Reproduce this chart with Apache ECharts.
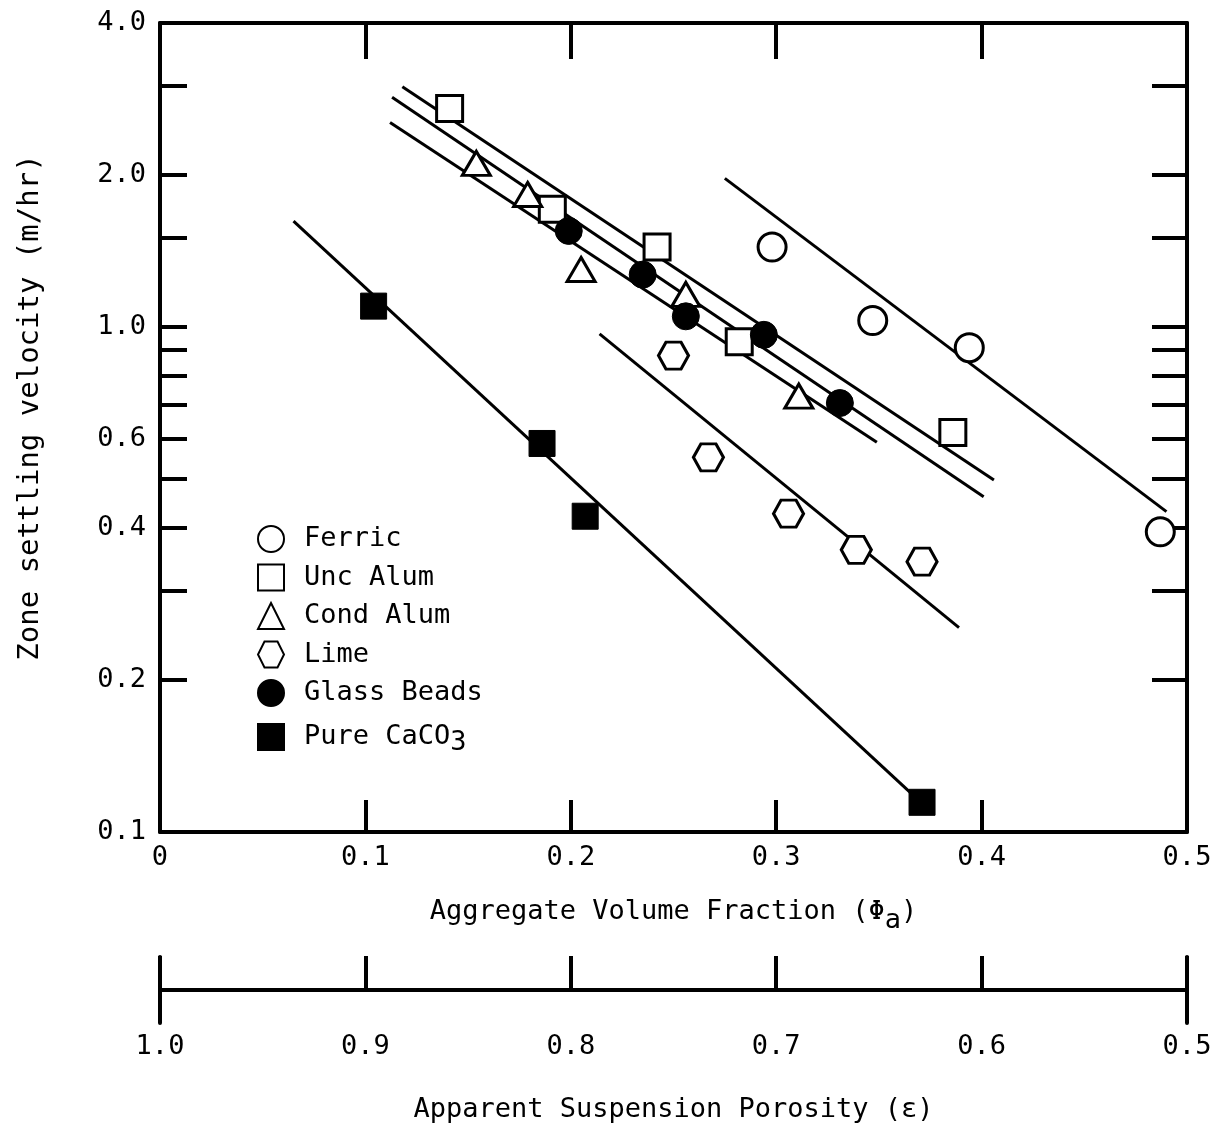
<!DOCTYPE html>
<html><head><meta charset="utf-8">
<script src="https://cdn.jsdelivr.net/npm/echarts@6/dist/echarts.min.js"></script>
<style>html,body{margin:0;padding:0;background:#fff}#c{width:1225px;height:1128px}</style>
</head><body><div id="c"></div>
<script>
const FONT = '"DejaVu Sans Mono", "Liberation Mono", monospace';
// [aggregate volume fraction, zone settling velocity (m/hr)]
const ferric     = [[0.298,1.44],[0.347,1.03],[0.394,0.91],[0.487,0.393]];
const uncAlum    = [[0.141,2.71],[0.191,1.71],[0.242,1.44],[0.282,0.935],[0.386,0.618]];
const condAlum   = [[0.154,2.11],[0.179,1.83],[0.205,1.30],[0.256,1.16],[0.311,0.730]];
const lime       = [[0.250,0.878],[0.267,0.552],[0.306,0.427],[0.339,0.362],[0.371,0.343]];
const glassBeads = [[0.199,1.55],[0.235,1.27],[0.256,1.05],[0.294,0.965],[0.331,0.707]];
const pureCaCO3  = [[0.104,1.10],[0.186,0.588],[0.207,0.422],[0.371,0.1145]];
// fitted lines (end points)
const fitFerric  = [[0.275,1.97],[0.490,0.431]];
const fitUnc     = [[0.118,2.99],[0.406,0.498]];
const fitCond    = [[0.113,2.85],[0.401,0.461]];
const fitGlass   = [[0.112,2.54],[0.349,0.591]];
const fitLime    = [[0.214,0.969],[0.389,0.254]];
const fitCaCO3   = [[0.065,1.62],[0.366,0.119]];
// axis ticks
const yLabelValues = [0.1,0.2,0.4,0.6,1,2,4];
const yTickValues  = [0.2,0.3,0.4,0.5,0.6,0.7,0.8,0.9,1,1.5,2,3];
const seriesNames = ['Ferric','Unc Alum','Cond Alum','Lime','Glass Beads','Pure CaCO3'];

const HEX = 'path://M25,0 L75,0 L100,50 L75,100 L25,100 L0,50 Z';
const txt = {fontFamily: FONT, fontSize: 27, color: '#000'};
const axLine = {show: true, lineStyle: {color: '#000', width: 4}};

function scatter(name, data, symbol, size, filled) {
  return {
    type: 'scatter', name, data, symbol, symbolSize: size, z: 5,
    xAxisIndex: 0, yAxisIndex: 0,
    itemStyle: filled ? {color: '#000', borderColor: '#000', borderWidth: 1, opacity: 1}
                      : {color: '#fff', borderColor: '#000', borderWidth: 3, opacity: 1}
  };
}
function fit(data) {
  return {type: 'line', data, symbol: 'none', showSymbol: false, silent: true, z: 2,
    xAxisIndex: 0, yAxisIndex: 0, lineStyle: {color: '#000', width: 3}};
}

const chart = echarts.init(document.getElementById('c'));
chart.setOption({
  animation: false,
  backgroundColor: '#fff',
  grid: [
    {left: 160, right: 38, top: 23, height: 809, outerBoundsMode: 'none', containLabel: false},
    {left: 160, right: 38, top: 957, height: 66, outerBoundsMode: 'none', containLabel: false}
  ],
  xAxis: [
    {gridIndex: 0, type: 'value', min: 0, max: 0.5, interval: 0.1, position: 'bottom',
     axisLine: Object.assign({onZero: false}, axLine),
     axisTick: {inside: true, length: 32, lineStyle: {color: '#000', width: 4}},
     axisLabel: Object.assign({margin: 12, formatter: v => v === 0 ? '0' : v.toFixed(1)}, txt),
     splitLine: {show: false},
     name: 'Aggregate Volume Fraction (Φ{sub|a})', nameLocation: 'middle', nameGap: 66,
     nameTextStyle: Object.assign({rich: {sub: {fontFamily: FONT, fontSize: 27, color: '#000', lineHeight: 16, padding: [18, 0, 0, 0]}}}, txt)},
    {gridIndex: 0, type: 'value', min: 0, max: 0.5, interval: 0.1, position: 'top',
     axisLine: Object.assign({onZero: false}, axLine),
     axisTick: {inside: true, length: 36, lineStyle: {color: '#000', width: 4}},
     axisLabel: {show: false}, splitLine: {show: false}},
    {gridIndex: 1, type: 'value', min: 0.5, max: 1.0, interval: 0.1, inverse: true,
     axisLine: Object.assign({onZero: true}, axLine),
     axisTick: {inside: true, length: 34, lineStyle: {color: '#000', width: 4}},
     axisLabel: Object.assign({margin: 10, formatter: v => v.toFixed(1)}, txt),
     splitLine: {show: false},
     name: 'Apparent Suspension Porosity (ε)', nameLocation: 'middle', nameGap: 73,
     nameTextStyle: txt}
  ],
  yAxis: [
    {gridIndex: 0, type: 'log', logBase: 10, min: 0.1, max: 4,
     axisLine: Object.assign({onZero: false}, axLine),
     axisTick: {inside: true, length: 27, customValues: yTickValues, lineStyle: {color: '#000', width: 4}},
     axisLabel: Object.assign({margin: 14, customValues: yLabelValues, formatter: v => Number(v).toFixed(1)}, txt),
     minorTick: {show: false}, splitLine: {show: false},
     name: 'Zone settling velocity (m/hr)', nameLocation: 'middle', nameGap: 115, nameRotate: 90,
     nameTextStyle: Object.assign({}, txt, {fontSize: 29, padding: [0, 0, 0, 40]})},
    {gridIndex: 0, type: 'log', logBase: 10, min: 0.1, max: 4, position: 'right',
     axisLine: Object.assign({onZero: false}, axLine),
     axisTick: {inside: true, length: 35, customValues: yTickValues, lineStyle: {color: '#000', width: 4}},
     axisLabel: {show: false}, splitLine: {show: false}},
    {gridIndex: 1, type: 'value', min: -1, max: 1, position: 'left',
     axisLine: Object.assign({onZero: false}, axLine),
     axisTick: {show: false}, axisLabel: {show: false}, splitLine: {show: false}},
    {gridIndex: 1, type: 'value', min: -1, max: 1, position: 'right',
     axisLine: Object.assign({onZero: false}, axLine),
     axisTick: {show: false}, axisLabel: {show: false}, splitLine: {show: false}}
  ],
  legend: {
    data: seriesNames, orient: 'vertical', left: 252, top: 520,
    itemWidth: 26, itemHeight: 26, itemGap: 10.5,
    formatter: n => n === 'Pure CaCO3' ? 'Pure CaCO{sub|3}' : n,
    textStyle: Object.assign({padding: [0, 0, 0, 15], lineHeight: 26,
      rich: {sub: {fontFamily: FONT, fontSize: 27, color: '#000', lineHeight: 8, padding: [12, 0, 0, 0]}}}, txt)
  },
  series: [
    fit(fitFerric), fit(fitUnc), fit(fitCond), fit(fitGlass), fit(fitLime), fit(fitCaCO3),
    scatter('Ferric', ferric, 'circle', 28, false),
    scatter('Unc Alum', uncAlum, 'rect', 26, false),
    scatter('Cond Alum', condAlum, 'triangle', [28, 24], false),
    scatter('Lime', lime, HEX, [30, 27], false),
    scatter('Glass Beads', glassBeads, 'circle', 27, true),
    scatter('Pure CaCO3', pureCaCO3, 'rect', 26, true)
  ]
});
</script></body></html>
